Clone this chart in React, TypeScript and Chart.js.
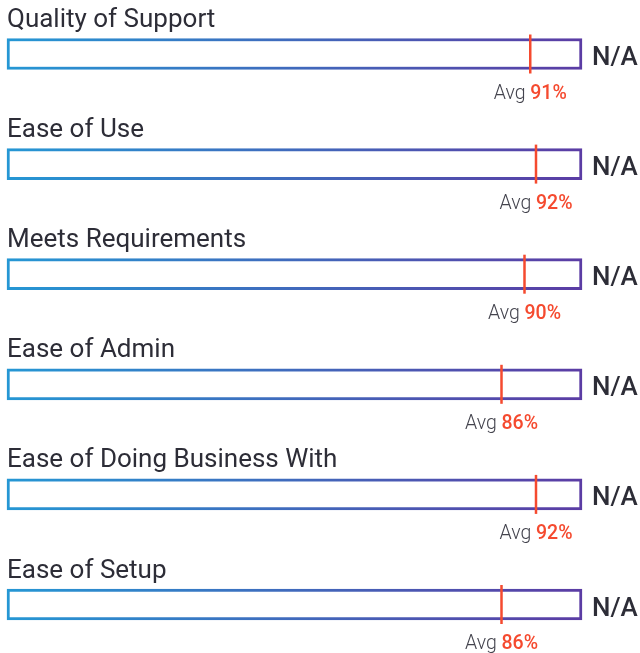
import React, { useEffect, useRef } from "react";
import { Chart, registerables } from "chart.js";

Chart.register(...registerables);

const categories = [
  "Quality of Support",
  "Ease of Use",
  "Meets Requirements",
  "Ease of Admin",
  "Ease of Doing Business With",
  "Ease of Setup",
];
const scoreValues = [100, 100, 100, 100, 100, 100];
const averages = [91, 92, 90, 86, 92, 86];
const productScores = ["N/A", "N/A", "N/A", "N/A", "N/A", "N/A"];

const FONT = "Roboto, 'Noto Sans', sans-serif";
const TEXT = "#2d2d37";
const RED = "#f54a2f";

const textPlugin = {
  id: "rowText",
  afterDatasetsDraw(chart: any) {
    const { ctx, scales } = chart;
    const x = scales.x;
    const y = scales.y;
    ctx.save();
    categories.forEach((cat, i) => {
      const cy = y.getPixelForValue(i);
      // label
      ctx.font = `400 26px ${FONT}`;
      ctx.fillStyle = TEXT;
      ctx.textAlign = "left";
      ctx.textBaseline = "alphabetic";
      ctx.fillText(cat, x.getPixelForValue(0), cy - 27);
      // N/A
      ctx.font = `500 26px ${FONT}`;
      ctx.fillText(productScores[i], x.getPixelForValue(100) + 10, cy + 11);
      // Avg text centered on avg line
      const ax = x.getPixelForValue(averages[i]);
      const pre = "Avg ";
      const val = averages[i] + "%";
      ctx.font = `300 19.5px ${FONT}`;
      const w1 = ctx.measureText(pre).width;
      ctx.font = `500 19.5px ${FONT}`;
      const w2 = ctx.measureText(val).width;
      const start = ax - (w1 + w2) / 2;
      ctx.font = `300 19.5px ${FONT}`;
      ctx.fillStyle = "#44444e";
      ctx.fillText(pre, start, cy + 44.5);
      ctx.font = `500 19.5px ${FONT}`;
      ctx.fillStyle = RED;
      ctx.fillText(val, start + w1, cy + 44.5);
    });
    ctx.restore();
  },
};

export default function App() {
  const ref = useRef<HTMLCanvasElement>(null);
  useEffect(() => {
    if (!ref.current) return;
    const chart = new Chart(ref.current, {
      type: "bar",
      data: {
        labels: categories,
        datasets: [
          {
            type: "bar",
            data: scoreValues,
            backgroundColor: "#ffffff",
            borderColor: (c: any) => {
              const { chart } = c;
              const area = chart.chartArea;
              if (!area) return "#3f6bbd";
              const g = chart.ctx.createLinearGradient(area.left, 0, area.right, 0);
              g.addColorStop(0, "#2597d4");
              g.addColorStop(1, "#5b3ca4");
              return g;
            },
            borderWidth: 3,
            borderSkipped: false,
            barThickness: 31,
            clip: false,
            order: 2,
          } as any,
          {
            type: "scatter",
            data: averages.map((v, i) => ({ x: v, y: categories[i] })),
            pointStyle: "line",
            rotation: 90,
            radius: 19.5,
            borderColor: RED,
            backgroundColor: RED,
            borderWidth: 2.5,
            clip: false,
            order: 1,
          } as any,
        ],
      },
      options: {
        indexAxis: "y",
        animation: false,
        responsive: false,
        maintainAspectRatio: false,
        layout: { autoPadding: false, padding: { left: 7, right: 58, top: 54, bottom: 48.5 } },
        plugins: { legend: { display: false }, tooltip: { enabled: false } },
        scales: {
          x: { type: "linear", min: 0, max: 100, display: false },
          y: { type: "category", offset: false, display: false },
        },
      } as any,
      plugins: [textPlugin],
    });
    return () => chart.destroy();
  }, []);
  return (
    <div style={{ position: "fixed", left: 0, top: 0, width: 640, height: 653, background: "#fff" }}>
      <canvas ref={ref} width={640} height={653} style={{ width: 640, height: 653, display: "block" }} />
    </div>
  );
}
